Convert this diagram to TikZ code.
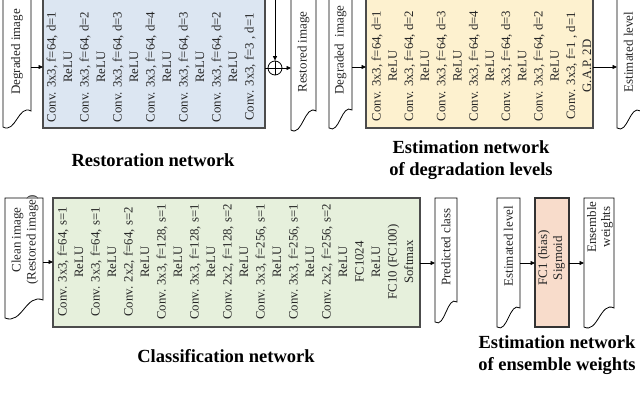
\documentclass[tikz,border=0pt]{standalone}
\usepackage{fontspec}
\setmainfont{Liberation Serif}
\usetikzlibrary{arrows.meta,calc}
\definecolor{blueF}{HTML}{DCE6F2}
\definecolor{yelF}{HTML}{FDF1CF}
\definecolor{grnF}{HTML}{E6F0DC}
\definecolor{salF}{HTML}{F8DCCB}
\newcommand\mydoc[5]{%
  \draw[docshape] (#1,#4) .. controls ({#1+0.45*(#2-#1)},{#4+7}) and ({#1+0.55*(#2-#1)},{#5-7}) .. (#2,#5) -- (#2,#3) -- (#1,#3) -- cycle;}
\begin{document}
\begin{tikzpicture}[x=1pt,y=-1pt,
  box/.style={draw=black!70, line width=1.4pt, inner sep=0pt, outer sep=0pt, anchor=north west},
  txt/.style={rotate=90, align=center, inner sep=0pt, font=\fontsize{12.8}{16.5}\selectfont, text=black!85},
  dtxt/.style={rotate=90, align=center, inner sep=0pt, font=\fontsize{13}{15}\selectfont, text=black!85},
  docshape/.style={draw=black, line width=0.8pt, fill=white},
  arr/.style={-{Triangle[length=4.5pt,width=4pt]}, line width=0.7pt},
  ttl/.style={align=center, inner sep=0pt, font=\fontsize{18.5}{22}\selectfont\bfseries}]
\useasboundingbox (0,0) rectangle (640,401);
\clip (0,0) rectangle (640,401);

% ---------- top row ----------
\mydoc{3}{31}{-5}{127}{111}
\node[dtxt] (degA) at (17,52) {Degraded image};
\coordinate (degAE) at (31,67);

\node[box, fill=blueF, minimum width=222pt, minimum height=140pt] (rest) at (43,-12) {};
\node[txt] (restT) at (151,67) {Conv. 3x3, f=64, d=1\\ReLU\\Conv. 3x3, f=64, d=2\\ReLU\\Conv. 3x3, f=64, d=3\\ReLU\\Conv. 3x3, f=64, d=4\\ReLU\\Conv. 3x3, f=64, d=3\\ReLU\\Conv. 3x3, f=64, d=2\\ReLU\\Conv. 3x3, f=3 , d=1};

\node[draw, circle, minimum size=14pt, inner sep=0pt, line width=0.8pt] (plus) at (275,68) {};
\draw[line width=0.8pt] (plus.north) -- (plus.south) (plus.west) -- (plus.east);
\coordinate (skipTop) at (275,-5);

\mydoc{291}{316}{-5}{130}{111}
\node[dtxt] (resI) at (303.5,52) {Restored image};
\coordinate (resIW) at (291,68);

\mydoc{329}{352}{-5}{128}{110}
\node[dtxt] (degB) at (340.5,50) {Degraded\ \ image};
\coordinate (degBE) at (352,67);

\node[box, fill=yelF, minimum width=227pt, minimum height=140pt] (est) at (366,-12) {};
\node[txt, font=\fontsize{12.8}{16.2}\selectfont] (estT) at (481.5,66) {Conv. 3x3, f=64, d=1\\ReLU\\Conv. 3x3, f=64, d=2\\ReLU\\Conv. 3x3, f=64, d=3\\ReLU\\Conv. 3x3, f=64, d=4\\ReLU\\Conv. 3x3, f=64, d=3\\ReLU\\Conv. 3x3, f=64, d=2\\ReLU\\Conv. 3x3, f=1 , d=1\\G.A.P. 2D};

\mydoc{617}{640.5}{-5}{128}{111}
\node[dtxt] (estL) at (628.5,52) {Estimated level};
\coordinate (estLW) at (617,67);

\draw[arr] (degAE) -- (rest.west |- degAE);
\draw[arr] (skipTop) -- (plus.north);
\draw[line width=0.7pt] (rest.east |- plus.west) -- (plus.west);
\draw[arr] (plus.east) -- (resIW);
\draw[arr] (degBE) -- (est.west |- degBE);
\draw[arr] (est.east |- estLW) -- (estLW);

\node[ttl] (restTitle) at (153,160) {Restoration network};
\node[ttl] (estTitle) at (471,160) {Estimation network\\of degradation levels};

% ---------- bottom row ----------
\mydoc{5}{43}{198}{318}{300}
\node[dtxt] (clean) at (25,240) {Clean image\\(Restored image)};
\coordinate (cleanE) at (43,262);

\node[box, fill=grnF, minimum width=367pt, minimum height=129pt] (cls) at (53,198) {};
\node[txt] (clsT) at (235.5,262) {Conv. 3x3, f=64, s=1\\ReLU\\Conv. 3x3, f=64, s=1\\ReLU\\Conv. 2x2, f=64, s=2\\ReLU\\Conv. 3x3, f=128, s=1\\ReLU\\Conv. 3x3, f=128, s=1\\ReLU\\Conv. 2x2, f=128, s=2\\ReLU\\Conv. 3x3, f=256, s=1\\ReLU\\Conv. 3x3, f=256, s=1\\ReLU\\Conv. 2x2, f=256, s=2\\ReLU\\FC1024\\ReLU\\FC10 (FC100)\\Softmax};

\mydoc{435}{457}{198}{322}{302}
\node[dtxt] (pred) at (446,247) {Predicted class};
\coordinate (predW) at (435,263);

\mydoc{497}{520}{198}{327}{308}
\node[dtxt] (estL2) at (508.5,246) {Estimated level};
\coordinate (estL2E) at (520,263);

\node[box, fill=salF, draw=black!80, line width=1.2pt, minimum width=34pt, minimum height=129pt] (ens) at (535,198) {};
\node[dtxt] (ensT) at (551.5,258) {FC1 (bias)\\Sigmoid};

\mydoc{584}{614}{198}{327}{308}
\node[dtxt, font=\fontsize{13}{14}\selectfont] (ensW) at (600,227) {Ensemble\\weights};
\coordinate (ensWW) at (584,263);

\draw[arr] (cleanE) -- (cls.west |- cleanE);
\draw[arr] (cls.east |- predW) -- (predW);
\draw[arr] (estL2E) -- (ens.west |- estL2E);
\draw[arr] (ens.east |- ensWW) -- (ensWW);

\node[ttl] (clsTitle) at (226,356) {Classification network};
\node[ttl] (ensTitle) at (557,355) {Estimation network\\of ensemble weights};
\end{tikzpicture}
\end{document}
